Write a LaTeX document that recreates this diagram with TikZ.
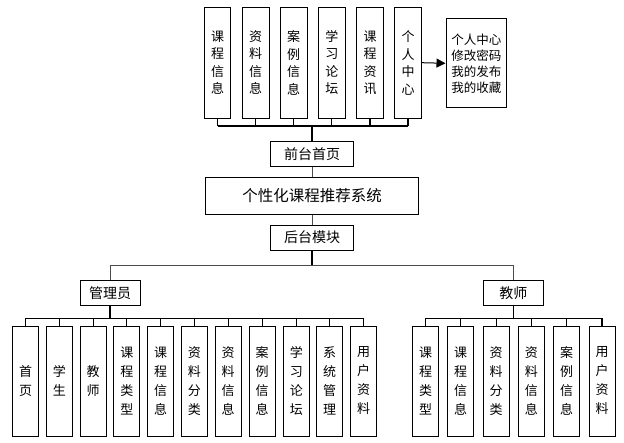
\documentclass[tikz,border=0pt]{standalone}
\usepackage{fontspec}
\setmainfont{Noto Sans CJK SC}
\usetikzlibrary{arrows.meta}
\begin{document}
\begin{tikzpicture}[x=1pt,y=-1pt,
  box/.style={draw=black,line width=0.9pt,fill=white,inner sep=0pt,align=center},
  vbox/.style={box,minimum width=26.5pt,minimum height=110.7pt,font=\fontsize{13}{17.5}\selectfont},
  bvbox/.style={box,minimum width=26pt,minimum height=110pt,font=\fontsize{13}{19}\selectfont},
  hbox/.style={box,minimum width=82.6pt,minimum height=25pt,font=\fontsize{14}{16}\selectfont},
  mbox/.style={box,minimum width=60pt,minimum height=25.3pt,font=\fontsize{14}{16}\selectfont},
  thick line/.style={draw=black,line width=1.6pt},
  bus line/.style={draw=black,line width=1.1pt},
  thin line/.style={draw=black!70,line width=0.9pt}]
\useasboundingbox (0,0) rectangle (624,443);
% top modules
\node[vbox] (t1) at (217.5,62.7) {课\\程\\信\\息};
\node[vbox] (t2) at (255.7,62.7) {资\\料\\信\\息};
\node[vbox] (t3) at (293.7,62.7) {案\\例\\信\\息};
\node[vbox] (t4) at (331.8,62.7) {学\\习\\论\\坛};
\node[vbox] (t5) at (370,62.7) {课\\程\\资\\讯};
\node[vbox] (t6) at (408,62.7) {个\\人\\中\\心};
\node[box,minimum width=60.7pt,minimum height=88.7pt,font=\fontsize{12.5}{16}\selectfont] (pc) at (476.3,63.3) {个人中心\\修改密码\\我的发布\\我的收藏};
\draw[draw=black,line width=1pt,-{Triangle[length=9pt,width=9pt]}] (t6.east) -- (pc.west);
% front / system / back
\node[hbox] (front) at (312,154.2) {前台首页};
\node[box,minimum width=212.6pt,minimum height=37pt,font=\fontsize{15.5}{18}\selectfont] (sys) at (312,195.8) {个性化课程推荐系统};
\node[hbox] (back) at (312,237.5) {后台模块};
\coordinate (tb) at (312,126);
\foreach \i in {1,...,6} {\draw[bus line] (t\i.south) -- (t\i.south |- tb);}
\draw[bus line] (t1.south |- tb) -- (t6.south |- tb);
\draw[thick line] (tb) -- (front.north);
\draw[thin line] (front.south) -- (sys.north);
\draw[thin line] (sys.south) -- (back.north);
% admin / teacher
\node[mbox] (adm) at (110,293.3) {管理员};
\node[mbox] (tea) at (513.3,293.3) {教师};
\coordinate (mb) at (312,265);
\draw[thick line] (back.south) -- (mb);
\draw[thin line] (adm.north) -- (adm.north |- mb) -- (tea.north |- mb) -- (tea.north);
% admin children
\coordinate (ab) at (110,318.3);
\node[bvbox] (a1) at (25.7,381) {首\\页};
\node[bvbox] (a2) at (59.3,381) {学\\生};
\node[bvbox] (a3) at (93.1,381) {教\\师};
\node[bvbox] (a4) at (126.8,381) {课\\程\\类\\型};
\node[bvbox] (a5) at (160.5,381) {课\\程\\信\\息};
\node[bvbox] (a6) at (194.4,381) {资\\料\\分\\类};
\node[bvbox] (a7) at (228.2,381) {资\\料\\信\\息};
\node[bvbox] (a8) at (262.1,381) {案\\例\\信\\息};
\node[bvbox] (a9) at (296.3,381) {学\\习\\论\\坛};
\node[bvbox] (a10) at (329.7,381) {系\\统\\管\\理};
\node[bvbox] (a11) at (363.7,381) {用\\户\\资\\料};
\draw[thick line] (adm.south) -- (ab);
\draw[bus line] (a1.north |- ab) -- (a11.north |- ab);
\foreach \i in {1,...,11} {\draw[bus line] (a\i.north |- ab) -- (a\i.north);}
% teacher children
\coordinate (eb) at (513.3,318.3);
\node[bvbox] (e1) at (425.5,381) {课\\程\\类\\型};
\node[bvbox] (e2) at (460.5,381) {课\\程\\信\\息};
\node[bvbox] (e3) at (496.2,381) {资\\料\\分\\类};
\node[bvbox] (e4) at (531.3,381) {资\\料\\信\\息};
\node[bvbox] (e5) at (566.7,381) {案\\例\\信\\息};
\node[bvbox] (e6) at (602,381) {用\\户\\资\\料};
\draw[thick line] (tea.south) -- (eb);
\draw[bus line] (e1.north |- eb) -- (e6.north |- eb);
\foreach \i in {1,...,6} {\draw[bus line] (e\i.north |- eb) -- (e\i.north);}
\end{tikzpicture}
\end{document}
